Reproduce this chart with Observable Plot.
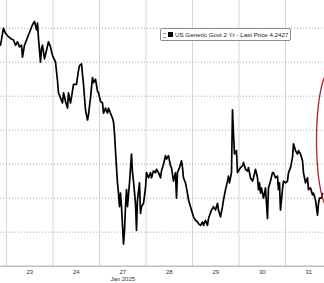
<!DOCTYPE html>
<html>
<head>
<meta charset="utf-8">
<script src="https://cdn.jsdelivr.net/npm/d3@7"></script>
<script src="https://cdn.jsdelivr.net/npm/@observablehq/plot@0.6"></script>
<style>
  html, body { margin: 0; padding: 0; background: #fff; }
  #wrap { position: relative; width: 324px; height: 283px; overflow: hidden; font-family: "Liberation Sans", Arial, sans-serif; }
  #legend { position: absolute; left: 160px; top: 28px; width: 129px; height: 11px; border: 1px solid #8c8c8c; border-radius: 2px; background: #fff;
            font-size: 6.2px; color: #222; line-height: 11px; white-space: nowrap; }
  #legend .ico { position: absolute; left: 2px; top: 4px; width: 3px; height: 3px; border-top: 1px solid #999; border-bottom: 1px solid #999; }
  #legend .sq { position: absolute; left: 7px; top: 3px; width: 5px; height: 5px; background: #000; }
  #legend .tx { position: absolute; left: 14px; top: 0; }
</style>
</head>
<body>
<div id="wrap"><div id="legend"><span class="ico"></span><span class="sq"></span><span class="tx"></span></div></div>
<script>
// ---- data ----
const tradingDays = ["23", "24", "27", "28", "29", "30", "31"];
const monthNote = "Jan 2025";
const seriesName = "US Generic Govt 2 Yr - Last Price 4.2427";
// session time in trading days (0 = start of Jan 23 session)
const sessionTime = [
  -0.129,-0.065,-0.022,0.043,0.086,0.151,0.194,0.237,0.280,0.323,0.344,0.387,0.430,0.473,0.516,0.559,0.602,0.645,0.667,0.688,
  0.731,0.753,0.774,0.817,0.860,0.903,0.946,0.989,1.054,1.097,1.118,1.161,1.204,1.226,1.269,1.312,1.333,1.376,1.419,1.441,
  1.505,1.548,1.570,1.613,1.634,1.656,1.699,1.742,1.763,1.806,1.849,1.871,1.914,1.957,1.978,2.022,2.065,2.086,2.129,2.172,
  2.194,2.237,2.280,2.301,2.323,2.344,2.366,2.387,2.409,2.430,2.452,2.473,2.516,2.538,2.559,2.581,2.602,2.645,2.688,2.710,
  2.731,2.774,2.796,2.817,2.860,2.882,2.903,2.946,2.989,3.011,3.054,3.097,3.118,3.161,3.204,3.226,3.269,3.312,3.333,3.376,
  3.419,3.441,3.484,3.527,3.548,3.591,3.634,3.656,3.677,3.720,3.763,3.785,3.806,3.849,3.871,3.914,3.957,3.978,4.022,4.065,
  4.108,4.129,4.172,4.215,4.237,4.280,4.323,4.344,4.409,4.452,4.495,4.538,4.559,4.602,4.645,4.667,4.710,4.753,4.774,4.796,
  4.839,4.860,4.882,4.903,4.946,4.968,4.989,5.032,5.075,5.097,5.140,5.183,5.204,5.247,5.290,5.312,5.355,5.398,5.419,5.441,
  5.462,5.484,5.505,5.527,5.570,5.591,5.613,5.634,5.677,5.720,5.742,5.785,5.828,5.849,5.871,5.892,5.935,5.957,6.000,6.043,
  6.065,6.108,6.151,6.172,6.215,6.258,6.280,6.323,6.366,6.387,6.430,6.473,6.495,6.538,6.581,6.602,6.645,6.688,6.710,6.731,
  6.774,6.796
];
const yield2y = [
  4.330,4.340,4.337,4.335,4.334,4.333,4.330,4.332,4.329,4.330,4.323,4.330,4.333,4.336,4.339,4.342,4.344,4.339,4.343,4.334,
  4.320,4.328,4.330,4.322,4.327,4.332,4.329,4.324,4.320,4.309,4.302,4.299,4.296,4.302,4.297,4.293,4.302,4.296,4.303,4.307,
  4.307,4.315,4.318,4.319,4.313,4.307,4.292,4.286,4.289,4.299,4.311,4.308,4.310,4.303,4.302,4.297,4.296,4.290,4.293,4.290,
  4.293,4.290,4.287,4.285,4.278,4.268,4.258,4.249,4.243,4.235,4.243,4.235,4.213,4.221,4.235,4.245,4.235,4.249,4.266,4.255,
  4.250,4.237,4.221,4.239,4.249,4.231,4.235,4.237,4.246,4.255,4.252,4.255,4.252,4.256,4.255,4.257,4.255,4.252,4.256,4.260,
  4.265,4.263,4.265,4.259,4.258,4.250,4.255,4.240,4.255,4.258,4.262,4.258,4.252,4.249,4.246,4.239,4.235,4.233,4.229,4.227,
  4.226,4.225,4.224,4.226,4.224,4.227,4.224,4.228,4.233,4.235,4.233,4.237,4.233,4.229,4.235,4.239,4.245,4.250,4.253,4.249,
  4.255,4.292,4.278,4.266,4.268,4.255,4.256,4.258,4.259,4.261,4.257,4.256,4.258,4.252,4.250,4.252,4.257,4.252,4.245,4.249,
  4.243,4.246,4.243,4.240,4.246,4.237,4.228,4.246,4.250,4.255,4.255,4.252,4.253,4.245,4.249,4.233,4.245,4.250,4.249,4.250,
  4.255,4.258,4.264,4.272,4.268,4.266,4.268,4.266,4.262,4.255,4.249,4.252,4.245,4.246,4.242,4.243,4.239,4.230,4.237,4.240,
  4.240,4.2427
];
const yGrid = [4.20, 4.22, 4.24, 4.26, 4.28, 4.30, 4.32, 4.34];
// annotation circle position (data units)
const highlightAt = [{t: 6.968, v: 4.274}];

// ---- build ----
const data = sessionTime.map((t, i) => ({t, v: yield2y[i]}));
const dayBounds = tradingDays.map((d, i) => i);
const dayCenters = tradingDays.map((d, i) => i + 0.5);

const ellipseSymbol = {
  draw(context) {
    const rx = 14, ry = 70, n = 72;
    for (let i = 0; i <= n; i++) {
      const a = (i / n) * 2 * Math.PI;
      const x = rx * Math.cos(a), y = ry * Math.sin(a);
      if (i === 0) context.moveTo(x, y); else context.lineTo(x, y);
    }
    context.closePath();
  }
};

const chart = Plot.plot({
  width: 324,
  height: 283,
  marginLeft: 0,
  marginRight: 0,
  marginTop: 0,
  marginBottom: 17,
  style: {background: "transparent", fontFamily: "Liberation Sans, Arial, sans-serif"},
  x: {type: "linear", domain: [-0.129, 6.839], label: null},
  y: {domain: [4.1998, 4.3563], axis: null, label: null},
  marks: [
    Plot.ruleX(dayBounds, {stroke: "#d6d6d6", strokeWidth: 1}),
    Plot.ruleY(yGrid.slice(1), {stroke: "#a8a8a8", strokeWidth: 1, strokeDasharray: "1,2"}),
    Plot.ruleY([yGrid[0]], {stroke: "#a0a0a0", strokeWidth: 1}),
    Plot.line(data, {x: "t", y: "v", stroke: "#000", strokeWidth: 1.7, strokeLinejoin: "round"}),
    Plot.dot(highlightAt, {x: "t", y: "v", symbol: ellipseSymbol, r: 1, fill: "none", stroke: "#b3202c", strokeWidth: 1.3}),
    Plot.axisX(dayCenters, {
      label: null,
      tickSize: 0, tickPadding: 3, fontSize: 6, fill: "#333",
      tickFormat: (d) => { const i = Math.round(d - 0.5); return tradingDays[i] + (tradingDays[i] === "27" ? "\n" + monthNote : ""); },
      lineHeight: 1.1
    })
  ]
});
document.getElementById("wrap").prepend(chart);
document.querySelector("#legend .tx").textContent = seriesName;
</script>
</body>
</html>
